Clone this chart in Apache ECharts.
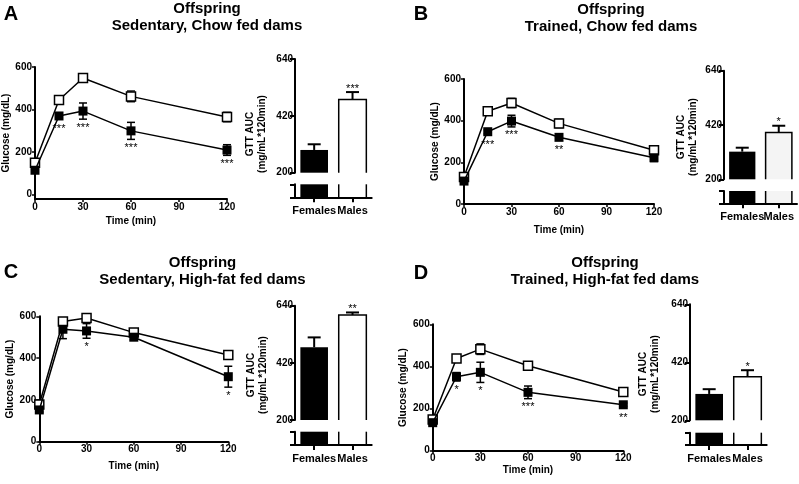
<!DOCTYPE html>
<html><head><meta charset="utf-8">
<script src="https://cdn.jsdelivr.net/npm/echarts@6/dist/echarts.min.js"></script>
<style>html,body{margin:0;padding:0;background:#fff}#c{width:799px;height:484px}</style>
</head><body><div id="c"></div>
<script>
// ---------- DATA ----------
const times = [0, 15, 30, 60, 120];
const glucoseTicks = [0, 200, 400, 600];
const sexes = ['Females', 'Males'];

// Panel A: Sedentary, Chow fed dams
const maleA = [150, 445, 548, 462, 365];
const maleErrA = [10, 10, 12, 25, 22];
const femaleA = [115, 370, 393, 300, 210];
const femaleErrA = [10, 12, 38, 40, 25];
const starsA = ['', '***', '***', '***', '***'];
const aucA = [288, 483];
const aucErrA = [22, 29];
const aucStarsA = ['', '***'];

// Panel B: Trained, Chow fed dams
const maleB = [130, 445, 485, 387, 258];
const maleErrB = [8, 10, 22, 20, 14];
const femaleB = [110, 347, 398, 320, 222];
const femaleErrB = [8, 10, 28, 10, 18];
const starsB = ['', '***', '***', '**', ''];
const aucB = [312, 390];
const aucErrB = [16, 27];
const aucStarsB = ['', '*'];

// Panel C: Sedentary, High-fat fed dams
const maleC = [178, 575, 592, 522, 415];
const maleErrC = [10, 15, 12, 10, 18];
const femaleC = [152, 538, 530, 500, 311];
const femaleErrC = [10, 45, 35, 12, 50];
const starsC = ['', '', '*', '', '*'];
const aucC = [480, 604];
const aucErrC = [38, 10];
const aucStarsC = ['', '**'];

// Panel D: Trained, High-fat fed dams
const maleD = [148, 438, 482, 403, 279];
const maleErrD = [8, 12, 25, 12, 10];
const femaleD = [133, 351, 372, 277, 218];
const femaleErrD = [10, 20, 48, 30, 8];
const starsD = ['', '*', '*', '***', '**'];
const aucD = [300, 365];
const aucErrD = [18, 25];
const aucStarsD = ['', '*'];

// ---------- LAYOUT ----------
const FONT = '"Liberation Sans", Arial, Helvetica, sans-serif';
const panels = [
  {letter:'A', lx:11, ly:14, title:['Offspring','Sedentary, Chow fed dams'], tx:207, ty:[9,26],
   line:{left:35, top:67, w:192, h:132, ymin:-20, xGap:17},
   bar:{left:295, w:76.7, top:59, h:113.7, lowTop:184.3, lowH:13, nx:256, ny:134, maleFill:'#fff'},
   male:maleA, maleErr:maleErrA, female:femaleA, femaleErr:femaleErrA, stars:starsA,
   auc:aucA, aucErr:aucErrA, aucStars:aucStarsA},
  {letter:'B', lx:421, ly:14, title:['Offspring','Trained, Chow fed dams'], tx:611, ty:[9.5,27],
   line:{left:464, top:79, w:190, h:125, ymin:0, xGap:21},
   bar:{left:724, w:73, top:70.7, h:108.6, lowTop:191, lowH:12.3, nx:687, ny:137, maleFill:'#f4f4f4'},
   male:maleB, maleErr:maleErrB, female:femaleB, femaleErr:femaleErrB, stars:starsB,
   auc:aucB, aucErr:aucErrB, aucStars:aucStarsB},
  {letter:'C', lx:11, ly:272.5, title:['Offspring','Sedentary, High-fat fed dams'], tx:202.5, ty:[262.5,280],
   line:{left:39.3, top:316.3, w:189, h:125.4, ymin:0, xGap:20},
   bar:{left:295, w:76.7, top:305.7, h:114.3, lowTop:431.7, lowH:13.3, nx:257, ny:375, maleFill:'#fff'},
   male:maleC, maleErr:maleErrC, female:femaleC, femaleErr:femaleErrC, stars:starsC,
   auc:aucC, aucErr:aucErrC, aucStars:aucStarsC},
  {letter:'D', lx:421, ly:273, title:['Offspring','Trained, High-fat fed dams'], tx:605, ty:[262.5,280],
   line:{left:432.7, top:324.3, w:190.6, h:126.4, ymin:0, xGap:15},
   bar:{left:690, w:76.7, top:304.3, h:116, lowTop:432.7, lowH:12.3, nx:649, ny:374, maleFill:'#fff'},
   male:maleD, maleErr:maleErrD, female:femaleD, femaleErr:femaleErrD, stars:starsD,
   auc:aucD, aucErr:aucErrD, aucStars:aucStarsD}
];

const lbl = (size) => ({color:'#000', fontWeight:'bold', fontSize:size, fontFamily:FONT});
const axLine = {show:true, onZero:false, lineStyle:{color:'#000', width:2}};

function lineErr(stars) {
  return function (params, api) {
    const x = api.value(0), y = api.value(1), e = api.value(2);
    const pt = api.coord([x, y]);
    const hi = api.coord([x, y + e]);
    const lo = api.coord([x, y - e]);
    const st = {stroke:'#000', lineWidth:1.5};
    const ch = [
      {type:'line', shape:{x1:pt[0], y1:hi[1], x2:pt[0], y2:lo[1]}, style:st},
      {type:'line', shape:{x1:pt[0]-4, y1:hi[1], x2:pt[0]+4, y2:hi[1]}, style:st},
      {type:'line', shape:{x1:pt[0]-4, y1:lo[1], x2:pt[0]+4, y2:lo[1]}, style:st}
    ];
    const s = stars && stars[params.dataIndex];
    if (s) ch.push({type:'text', style:{text:s, x:pt[0], y:Math.max(lo[1], pt[1]+4.5)+3,
      align:'center', verticalAlign:'top', font:'11px ' + FONT, fill:'#000'}});
    return {type:'group', children:ch};
  };
}

function barDeco(stars, upper) {
  return function (params, api) {
    const i = api.value(0), v = api.value(1), e = api.value(2);
    const cs = params.coordSys;
    const p = api.coord([i, v]);
    const pe = api.coord([i, v + e]);
    const bw = api.size([1, 0])[0] * 0.72;
    const st = {stroke:'#000', lineWidth:1.5};
    const bottom = cs.y + cs.height;
    const ch = [];
    if (upper) {
      ch.push({type:'line', shape:{x1:p[0], y1:p[1], x2:p[0], y2:pe[1]}, style:{stroke:'#000', lineWidth:2}});
      ch.push({type:'line', shape:{x1:p[0]-6.5, y1:pe[1], x2:p[0]+6.5, y2:pe[1]}, style:{stroke:'#000', lineWidth:2}});
      if (i === 1) {
        ch.push({type:'polyline', shape:{points:[[p[0]-bw/2, bottom],[p[0]-bw/2, p[1]],[p[0]+bw/2, p[1]],[p[0]+bw/2, bottom]]}, style:Object.assign({fill:null}, st)});
      }
      const s = stars[params.dataIndex];
      if (s) ch.push({type:'text', style:{text:s, x:p[0], y:pe[1]-9, align:'center', verticalAlign:'top', font:'11px ' + FONT, fill:'#000'}});
    } else if (i === 1) {
      ch.push({type:'line', shape:{x1:p[0]-bw/2, y1:cs.y, x2:p[0]-bw/2, y2:bottom}, style:st});
      ch.push({type:'line', shape:{x1:p[0]+bw/2, y1:cs.y, x2:p[0]+bw/2, y2:bottom}, style:st});
    }
    return {type:'group', children:ch};
  };
}

const grid = [], xAxis = [], yAxis = [], series = [], graphic = [];

panels.forEach((P, k) => {
  const gL = 3*k, gU = 3*k+1, gD = 3*k+2;
  const L = P.line, B = P.bar;
  grid.push({left:L.left, top:L.top, width:L.w, height:L.h, containLabel:false, outerBoundsMode:'none'});
  grid.push({left:B.left, top:B.top, width:B.w, height:B.h, containLabel:false, outerBoundsMode:'none'});
  grid.push({left:B.left, top:B.lowTop, width:B.w, height:B.lowH, containLabel:false, outerBoundsMode:'none'});

  xAxis.push({type:'value', gridIndex:gL, min:0, max:120, interval:30,
    axisLine:axLine, axisTick:{show:true, length:3, lineStyle:{color:'#000', width:1.5}},
    axisLabel:Object.assign({margin:3}, lbl(10)), splitLine:{show:false},
    name:'Time (min)', nameLocation:'middle', nameGap:L.xGap, nameTextStyle:lbl(10)});
  yAxis.push({type:'value', gridIndex:gL, min:L.ymin, max:600, interval:200,
    axisLine:axLine,
    axisTick:{show:true, length:3, lineStyle:{color:'#000', width:1.5}, customValues:glucoseTicks},
    axisLabel:Object.assign({margin:3, customValues:glucoseTicks}, lbl(10)), splitLine:{show:false},
    name:'Glucose (mg/dL)', nameLocation:'middle', nameGap:24, nameTextStyle:lbl(10)});
  xAxis.push({type:'category', gridIndex:gU, data:sexes, show:false});
  yAxis.push({type:'value', gridIndex:gU, min:200, max:640, interval:220, z:3,
    axisLine:axLine, axisTick:{show:true, length:5, lineStyle:{color:'#000', width:2}},
    axisLabel:Object.assign({margin:2}, lbl(10)), splitLine:{show:false}});
  xAxis.push({type:'category', gridIndex:gD, data:sexes, z:3,
    axisLine:axLine, axisTick:{show:true, alignWithLabel:true, interval:0, length:5, lineStyle:{color:'#000', width:2}},
    axisLabel:Object.assign({margin:8, interval:0, hideOverlap:false}, lbl(11))});
  yAxis.push({type:'value', gridIndex:gD, min:0, max:20, interval:20, z:3,
    axisLine:axLine, axisTick:{show:true, length:5, lineStyle:{color:'#000', width:2}},
    axisLabel:{show:false}, splitLine:{show:false}});

  series.push({type:'custom', xAxisIndex:gL, yAxisIndex:gL, z:2, clip:false,
    data:times.map((t,i)=>[t, P.male[i], P.maleErr[i]]), renderItem:lineErr(null)});
  series.push({type:'custom', xAxisIndex:gL, yAxisIndex:gL, z:2, clip:false,
    data:times.map((t,i)=>[t, P.female[i], P.femaleErr[i]]), renderItem:lineErr(P.stars)});
  series.push({type:'line', name:'Males', xAxisIndex:gL, yAxisIndex:gL, z:4,
    data:times.map((t,i)=>[t, P.male[i]]), symbol:'rect', symbolSize:9, showSymbol:true,
    itemStyle:{color:'#fff', borderColor:'#000', borderWidth:1.5}, lineStyle:{color:'#000', width:1.5}});
  series.push({type:'line', name:'Females', xAxisIndex:gL, yAxisIndex:gL, z:5,
    data:times.map((t,i)=>[t, P.female[i]]), symbol:'rect', symbolSize:9, showSymbol:true,
    itemStyle:{color:'#000', borderColor:'#000', borderWidth:0}, lineStyle:{color:'#000', width:1.5}});

  const fills = ['#000', B.maleFill];
  [gU, gD].forEach(g => {
    series.push({type:'bar', xAxisIndex:g, yAxisIndex:g, barWidth:'72%', clip:true, z:2,
      data:P.auc.map((v,i)=>({value:v, itemStyle:{color:fills[i], borderWidth:0}}))});
    series.push({type:'custom', xAxisIndex:g, yAxisIndex:g, z:4, clip:false,
      data:sexes.map((s,i)=>[i, P.auc[i], P.aucErr[i]]), renderItem:barDeco(P.aucStars, g === gU)});
  });

  graphic.push({type:'text', x:P.lx, y:P.ly, style:{text:P.letter, align:'center', verticalAlign:'middle', font:'bold 20px ' + FONT, fill:'#000'}});
  graphic.push({type:'text', x:P.tx, y:P.ty[0], style:{text:P.title[0], align:'center', verticalAlign:'middle', font:'bold 15px ' + FONT, fill:'#000'}});
  graphic.push({type:'text', x:P.tx, y:P.ty[1], style:{text:P.title[1], align:'center', verticalAlign:'middle', font:'bold 15px ' + FONT, fill:'#000'}});
  graphic.push({type:'text', x:B.nx, y:B.ny, rotation:Math.PI/2,
    style:{text:'GTT AUC\n(mg/mL*120min)', align:'center', verticalAlign:'middle', lineHeight:12, font:'bold 10px ' + FONT, fill:'#000'}});
});

const chart = echarts.init(document.getElementById('c'), null, {renderer:'canvas'});
chart.setOption({
  backgroundColor:'#fff', animation:false, textStyle:{fontFamily:FONT},
  grid, xAxis, yAxis, series, graphic
});
</script>
</body></html>
